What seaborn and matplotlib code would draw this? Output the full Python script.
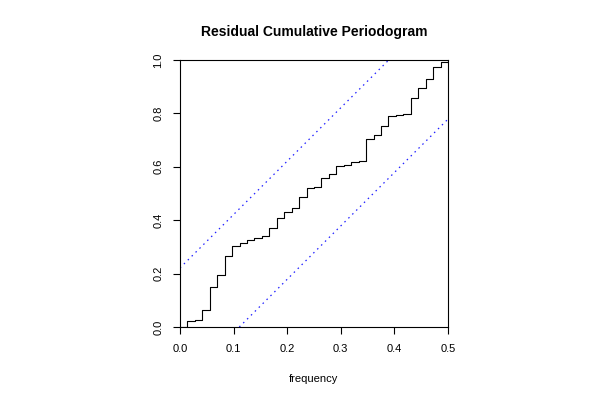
import matplotlib

matplotlib.use("Agg")
import matplotlib.pyplot as plt
import numpy as np
import pandas as pd
import seaborn as sns

# Fourier frequencies (0 .. 0.5, step 1/72) and cumulative periodogram
freq = [
    0.0, 0.0139, 0.0278, 0.0417, 0.0556, 0.0694, 0.0833, 0.0972, 0.1111, 0.125,
    0.1389, 0.1528, 0.1667, 0.1806, 0.1944, 0.2083, 0.2222, 0.2361, 0.25, 0.2639,
    0.2778, 0.2917, 0.3056, 0.3194, 0.3333, 0.3472, 0.3611, 0.375, 0.3889, 0.4028,
    0.4167, 0.4306, 0.4444, 0.4583, 0.4722, 0.4861, 0.5,
]
cum_pgram = [
    0.0, 0.024, 0.026, 0.065, 0.151, 0.194, 0.265, 0.305, 0.315, 0.325,
    0.333, 0.340, 0.370, 0.407, 0.430, 0.447, 0.486, 0.520, 0.523, 0.557,
    0.572, 0.604, 0.606, 0.619, 0.623, 0.703, 0.720, 0.754, 0.790, 0.793,
    0.797, 0.856, 0.896, 0.928, 0.975, 0.994, 1.0,
]
x_ticks = [0.0, 0.1, 0.2, 0.3, 0.4, 0.5]
y_ticks = [0.0, 0.2, 0.4, 0.6, 0.8, 1.0]

# Kolmogorov-Smirnov style band, as in R's cpgram()
xm = 0.5
mp = len(freq) - 1
crit = 1.358 / (np.sqrt(mp) + 0.12 + 0.11 / np.sqrt(mp))

sns.set_style("ticks")
plt.rcParams["font.family"] = ["Liberation Sans", "DejaVu Sans"]
plt.rcParams.update({"text.color": "black", "axes.labelcolor": "black",
                     "xtick.color": "black", "ytick.color": "black"})

fig = plt.figure(figsize=(6, 4), dpi=100)
ax = fig.add_axes([0.3, 0.1825, 0.4467, 0.6675])

df = pd.DataFrame({"frequency": freq, "cum": cum_pgram})
sns.lineplot(data=df, x="frequency", y="cum", ax=ax, color="black",
             linewidth=0.8, drawstyle="steps-post", estimator=None, sort=False)

upper = pd.DataFrame({"x": [0, xm * (1 - crit)], "y": [crit, 1]})
lower = pd.DataFrame({"x": [xm * crit, xm], "y": [0, 1 - crit]})
for band in (upper, lower):
    sns.lineplot(data=band, x="x", y="y", ax=ax, color="#2020ff", linewidth=0.9,
                 linestyle=(0, (1.2, 3.2)), estimator=None, sort=False)

ax.set_xlim(0, xm)
ax.set_ylim(0, 1)
ax.set_xticks(x_ticks)
ax.set_xticklabels([f"{v:.1f}" for v in x_ticks])
ax.set_yticks(y_ticks)
ax.set_yticklabels([f"{v:.1f}" for v in y_ticks], rotation=90, va="center")
ax.tick_params(direction="out", length=5, width=0.8, labelsize=8, pad=7,
               color="black", labelcolor="black")
for s in ax.spines.values():
    s.set_visible(True)
    s.set_linewidth(0.8)
    s.set_color("black")

ax.set_xlabel("frequency", fontsize=8, labelpad=15, color="black")
ax.set_ylabel("")
ax.set_title("Residual Cumulative Periodogram", fontsize=10, fontweight="bold",
             pad=17, color="black")

fig.savefig("out.png", dpi=100)
